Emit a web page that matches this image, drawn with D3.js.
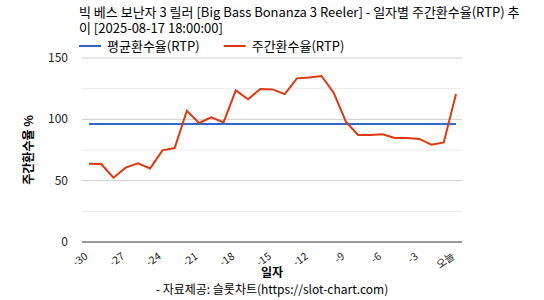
<!DOCTYPE html>
<html>
<head>
<meta charset="utf-8">
<script src="https://cdn.jsdelivr.net/npm/d3@7"></script>
<style>
  body { margin: 0; background: #fff; }
  text { font-family: "Noto Sans CJK KR", "Noto Sans", sans-serif; }
</style>
</head>
<body>
<svg id="chart" width="544" height="300"></svg>
<script>
// data
const days = d3.range(-30, 1);
const weeklyRtp = [63.8, 63.6, 52.4, 60.6, 64.1, 60.0, 74.7, 76.6, 107.0, 97.0,
  101.6, 97.5, 123.6, 116.3, 124.7, 124.4, 120.6, 133.4, 134.2, 135.3,
  121.7, 98.1, 87.2, 87.2, 87.8, 84.8, 84.8, 84.0, 79.3, 81.2, 120.6];
const avgRtp = 96.2;
const xTicks = [-30, -27, -24, -21, -18, -15, -12, -9, -6, -3, 0];
const yTicks = [0, 50, 100, 150];
const yMinor = [25, 75, 125];
const titleLines = ["빅 베스 보난자 3 릴러 [Big Bass Bonanza 3 Reeler] - 일자별 주간환수율(RTP) 추", "이 [2025-08-17 18:00:00]"];
const legendItems = [{ name: "평균환수율(RTP)", color: "#3366cc" }, { name: "주간환수율(RTP)", color: "#dc3912" }];

const svg = d3.select("#chart");
const plot = { left: 82, right: 462, top: 58, bottom: 242 };

const x = d3.scaleLinear().domain([-30, 0]).range([plot.left + 7, plot.right - 6]);
const y = d3.scaleLinear().domain([0, 150]).range([plot.bottom, plot.top]);

// title
svg.selectAll(".title")
    .data(titleLines)
    .enter().append("text")
    .attr("x", 79)
    .attr("y", (d, i) => 16.5 + i * 16.5)
    .attr("font-size", 13)
    .attr("fill", "#000")
    .text(d => d);

// legend
const legend = svg.append("g");
let lx = 79;
legendItems.forEach(item => {
    legend.append("line")
        .attr("x1", lx).attr("x2", lx + 22)
        .attr("y1", 46).attr("y2", 46)
        .attr("stroke", item.color).attr("stroke-width", 2);
    const t = legend.append("text")
        .attr("x", lx + 28).attr("y", 51)
        .attr("font-size", 13)
        .text(item.name);
    lx += 28 + t.node().getComputedTextLength() + 24;
});

// gridlines
svg.append("g").selectAll("line")
    .data(yMinor)
    .enter().append("line")
    .attr("x1", plot.left).attr("x2", plot.right)
    .attr("y1", d => y(d)).attr("y2", d => y(d))
    .attr("stroke", "#ebebeb").attr("stroke-width", 1);

svg.append("g").selectAll("line")
    .data(yTicks.filter(d => d > 0))
    .enter().append("line")
    .attr("x1", plot.left).attr("x2", plot.right)
    .attr("y1", d => y(d)).attr("y2", d => y(d))
    .attr("stroke", "#cccccc").attr("stroke-width", 1);

// y axis labels
svg.append("g").selectAll("text")
    .data(yTicks)
    .enter().append("text")
    .attr("x", 68)
    .attr("y", d => y(d) + 4)
    .attr("text-anchor", "end")
    .attr("font-size", 12)
    .attr("fill", "#222")
    .text(d => d);

// x axis
const xAxis = svg.append("g")
    .attr("transform", `translate(0, ${plot.bottom})`)
    .call(d3.axisBottom(x).tickValues(xTicks).tickSize(0)
        .tickFormat(d => d === 0 ? "오늘" : d));
xAxis.select(".domain").remove();
xAxis.selectAll("text")
    .attr("font-size", 10.5)
    .attr("fill", "#222")
    .attr("text-anchor", "end")
    .attr("y", 0)
    .attr("dy", "0")
    .attr("transform", "translate(-1, 16) rotate(-35)");

svg.append("line")
    .attr("x1", plot.left).attr("x2", plot.right)
    .attr("y1", plot.bottom).attr("y2", plot.bottom)
    .attr("stroke", "#333").attr("stroke-width", 1);

// average line
svg.append("line")
    .attr("x1", x(-30)).attr("x2", x(0))
    .attr("y1", y(avgRtp)).attr("y2", y(avgRtp))
    .attr("stroke", "#3366cc").attr("stroke-width", 2);

// weekly rtp line
const line = d3.line()
    .x((d, i) => x(days[i]))
    .y(d => y(d));

svg.append("path")
    .datum(weeklyRtp)
    .attr("d", line)
    .attr("fill", "none")
    .attr("stroke", "#dc3912")
    .attr("stroke-width", 2);

// axis titles
svg.append("text")
    .attr("x", 272).attr("y", 277)
    .attr("text-anchor", "middle")
    .attr("font-size", 12).attr("font-weight", "bold")
    .text("일자");

svg.append("text")
    .attr("x", 272).attr("y", 294)
    .attr("text-anchor", "middle")
    .attr("font-size", 12)
    .text("- 자료제공: 슬롯차트(https://slot-chart.com)");

svg.append("text")
    .attr("transform", `translate(33, 150) rotate(-90)`)
    .attr("text-anchor", "middle")
    .attr("font-size", 12).attr("font-weight", "bold")
    .text("주간환수율 %");
</script>
</body>
</html>
